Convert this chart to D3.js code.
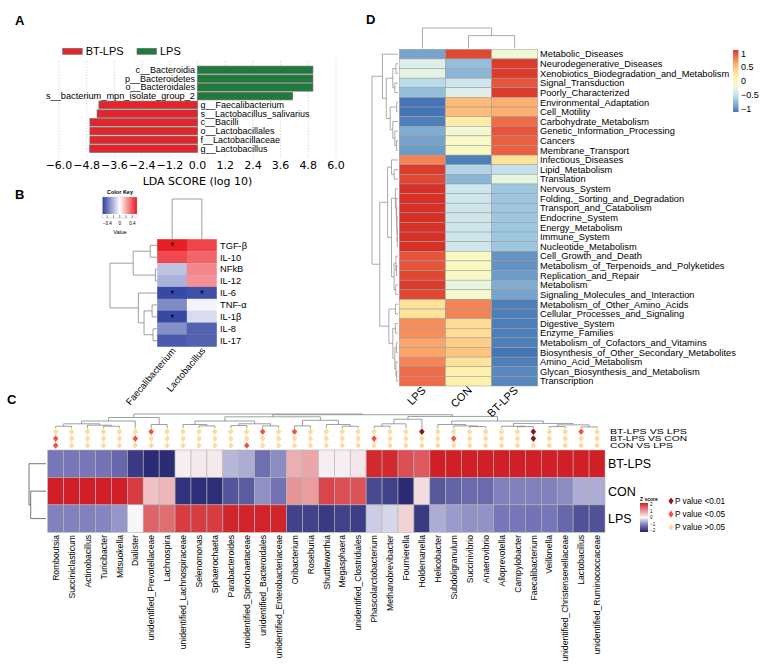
<!DOCTYPE html>
<html><head><meta charset="utf-8">
<script src="https://cdn.jsdelivr.net/npm/d3@7"></script>
<style>body{margin:0;background:#fff}</style>
</head><body><svg id="c" width="767" height="668"></svg>
<script>
// ---------------- DATA ----------------
// Panel A (LEfSe)
const ldaTaxa = ["c__Bacteroidia","p__Bacteroidetes","o__Bacteroidales","s__bacterium_mpn_isolate_group_2","g__Faecalibacterium","s__Lactobacillus_salivarius","c__Bacilli","o__Lactobacillales","f__Lactobacillaceae","g__Lactobacillus"];
const ldaScores = [5.0,5.0,5.0,4.12,-4.27,-4.35,-4.66,-4.66,-4.66,-4.67];
const ldaGroups = ["LPS","LPS","LPS","LPS","BT-LPS","BT-LPS","BT-LPS","BT-LPS","BT-LPS","BT-LPS"];
const ldaLegend = ["BT-LPS","LPS"];
const ldaTicks = [-6,-4.8,-3.6,-2.4,-1.2,0,1.2,2.4,3.6,4.8,6];

// Panel B (correlation)
const cytokines = ["TGF-β","IL-10","NFkB","IL-12","IL-6","TNF-α","IL-1β","IL-8","IL-17"];
const bacteria = ["Faecalibacterium","Lactobacillus"];
const corrFaecali = [0.53,0.43,-0.17,-0.22,-0.52,-0.33,-0.52,-0.32,-0.47];
const corrLacto = [0.44,0.36,0.28,0.26,-0.5,-0.03,-0.1,-0.45,-0.45];
const sigFaecali = [1,0,0,0,1,0,1,0,0];
const sigLacto = [0,0,0,0,1,0,0,0,0];
const keyTicks = [-0.4,0,0.4];
const cytoTree = [10,[5.1,[1.5,0,1],[0.4,2,3]],[4.0,4,[2.8,[1.1,5,6],[0.9,7,8]]]];
const bacTree = [1,0,1];

// Panel C (genus heatmap)
const genera = ["Romboutsia","Succiniclasticum","Actinobacillus","Turicibacter","Mitsuokella","Dialister","unidentified_Prevotellaceae","Lachnospira","unidentified_Lachnospiraceae","Selenomonas","Sphaerochaeta","Parabacteroides","unidentified_Spirochaetaceae","unidentified_Bacteroidales","unidentified_Enterobacteriaceae","Oribacterium","Roseburia","Shuttleworthia","Megasphaera","unidentified_Clostridiales","Phascolarctobacterium","Methanobrevibacter","Fournierella","Holdemanella","Helicobacter","Subdoligranulum","Succinivibrio","Anaerovibrio","Alloprevotella","Campylobacter","Faecalibacterium","Veillonella","unidentified_Christensenellaceae","Lactobacillus","unidentified_Ruminococcaceae"];
const groupsC = ["BT-LPS","CON","LPS"];
const zBT  = [-0.6,-0.6,-0.6,-0.62,-0.7,-1.0,-1.1,-1.1,0.05,0.08,0.08,-0.3,-0.35,-0.65,-0.5,0.4,0.45,0.05,0.05,0.1,1.1,1.1,0.9,0.85,1.15,1.15,1.15,1.15,1.15,1.15,1.15,1.15,1.15,1.15,1.15];
const zCON = [1.15,1.15,1.15,1.15,1.15,1.0,0.3,0.35,-1.05,-1.08,-1.08,-0.82,-0.78,-0.48,-0.62,0.55,0.5,0.95,0.9,0.88,-0.9,-0.95,-1.1,0.15,-0.8,-0.72,-0.68,-0.68,-0.55,-0.55,-0.55,-0.55,-0.5,-0.35,-0.35];
const zLPS = [-0.55,-0.55,-0.55,-0.53,-0.45,0.0,0.8,0.75,1.0,1.0,1.0,1.12,1.13,1.13,1.12,-0.95,-0.95,-1.0,-0.95,-0.98,-0.2,-0.15,0.2,-1.0,-0.35,-0.43,-0.47,-0.47,-0.6,-0.6,-0.62,-0.6,-0.7,-0.85,-0.85];
const comparisons = ["BT-LPS VS  LPS","BT-LPS VS  CON","CON VS  LPS"];
// 0: P>0.05, 1: P<0.05, 2: P<0.01
const pBTvsLPS = [0,0,0,0,0,0,1,0,0,0,0,0,0,1,0,1,0,0,0,0,0,0,0,2,0,0,0,0,0,0,2,0,0,1,0];
const pBTvsCON = [1,0,0,0,0,1,0,0,0,0,0,0,0,0,0,0,0,0,0,0,1,0,0,0,0,1,0,0,0,0,2,0,0,0,0];
const pCONvsLPS= [1,0,0,0,0,0,0,0,0,0,0,0,1,0,0,0,0,0,0,0,0,0,0,0,0,0,0,0,0,0,0,0,0,0,0];
const pLegend = ["P value <0.01","P value <0.05","P value >0.05"];
const zTicks = [2,1,0,-1,-2];
const groupTreeC = [1,0,[0.9,1,2]];
const genusTree = [4,
  [3,[2,[1.2,[0.5,0,1],[0.8,2,[0.5,3,4]]],5],[1,6,7]],
  [3.8,
    [3.2,[2,[1,8,[0.6,9,10]],[1.2,[0.7,11,12],[0.6,13,14]]],[2.2,[0.6,15,16],[1,17,[0.5,18,19]]]],
    [3.3,[2.5,[1.2,[0.5,20,21],22],23],[2,[1,24,[0.6,25,[0.4,26,27]]],[1.3,[0.5,28,[0.4,29,30]],[0.9,[0.4,31,32],[0.3,33,34]]]]]]];

// Panel D (KEGG heatmap)
const pathways = ["Metabolic_Diseases","Neurodegenerative_Diseases","Xenobiotics_Biodegradation_and_Metabolism","Signal_Transduction","Poorly_Characterized","Environmental_Adaptation","Cell_Motility","Carbohydrate_Metabolism","Genetic_Information_Processing","Cancers","Membrane_Transport","Infectious_Diseases","Lipid_Metabolism","Translation","Nervous_System","Folding,_Sorting_and_Degradation","Transport_and_Catabolism","Endocrine_System","Energy_Metabolism","Immune_System","Nucleotide_Metabolism","Cell_Growth_and_Death","Metabolism_of_Terpenoids_and_Polyketides","Replication_and_Repair","Metabolism","Signaling_Molecules_and_Interaction","Metabolism_of_Other_Amino_Acids","Cellular_Processes_and_Signaling","Digestive_System","Enzyme_Families","Metabolism_of_Cofactors_and_Vitamins","Biosynthesis_of_Other_Secondary_Metabolites","Amino_Acid_Metabolism","Glycan_Biosynthesis_and_Metabolism","Transcription"];
const groupsD = ["LPS","CON","BT-LPS"];
const dLPS = [-0.9,-0.35,-0.3,-0.55,-0.75,-1.15,-1.15,-1.1,-0.85,-0.9,-0.95,0.8,1.1,1.05,1.15,1.15,1.15,1.15,1.15,1.15,1.15,1.0,1.0,1.05,1.1,1.05,0.3,0.3,0.75,0.75,0.65,0.65,0.8,0.9,0.9];
const dCON = [1.05,-0.75,-0.8,-0.45,-0.35,0.55,0.55,0.2,-0.15,-0.05,0.0,-1.1,-0.6,-0.8,-0.45,-0.45,-0.45,-0.45,-0.45,-0.45,-0.45,0.0,0.0,-0.05,-0.25,-0.1,0.8,0.8,0.35,0.35,0.45,0.5,0.3,0.15,0.15];
const dBT  = [-0.15,1.1,1.1,1.0,1.1,0.6,0.6,0.9,1.0,0.95,0.95,0.3,-0.5,-0.25,-0.7,-0.7,-0.7,-0.7,-0.7,-0.7,-0.7,-1.0,-1.0,-0.95,-0.85,-0.9,-1.1,-1.1,-1.1,-1.1,-1.1,-1.15,-1.1,-1.05,-1.05];
const dTicks = [1,0.5,0,-0.5,-1];
const groupTreeD = [1,0,[0.63,1,2]];
const pathwayTree = [10,
  [6,0,[4.5,[2,[0.8,1,2],[1.2,3,4]],[3,[0.5,5,6],[2,7,[1.2,8,[0.6,9,10]]]]]],
  [7,[4,[2.5,11,[1.5,12,13]],[2.5,[1,14,[0.7,15,[0.5,16,[0.4,17,[0.3,18,[0.3,19,20]]]]]],[1.5,[0.8,21,[0.6,22,23]],[0.9,24,25]]]],
     [3.5,[1,26,27],[2,[1,28,29],[1.2,[0.6,30,31],[0.8,32,[0.5,33,34]]]]]]];

// ---------------- DRAW ----------------
const svg = d3.select("#c");
const AR = '"Liberation Sans", Arial, sans-serif';
const DJ = '"DejaVu Sans", sans-serif';
svg.append("rect").attr("width",767).attr("height",668).attr("fill","#fff");
const defs = svg.append("defs");

function dendro(g, tree, leafPos, hpos, orient, color, sw){
  function walk(node){
    if (typeof node === "number") return {p: leafPos(node), h: 0};
    const [h,a,b] = node; const A = walk(a), B = walk(b);
    const d = orient === "left"
      ? `M${hpos(A.h)},${A.p}H${hpos(h)}V${B.p}H${hpos(B.h)}`
      : `M${A.p},${hpos(A.h)}V${hpos(h)}H${B.p}V${hpos(B.h)}`;
    g.append("path").attr("d", d).attr("fill","none").attr("stroke",color).attr("stroke-width",sw);
    return {p:(A.p+B.p)/2, h};
  }
  walk(tree);
}
function panelLabel(t,x,y){
  svg.append("text").attr("x",x).attr("y",y).text(t).attr("font-family",AR).attr("font-weight","bold").attr("font-size",13);
}
panelLabel("A",15,25); panelLabel("B",15,199); panelLabel("C",7,404); panelLabel("D",366,24);

// ===== Panel A =====
{
  const g = svg.append("g");
  const colA = {"BT-LPS":"#e5232a","LPS":"#1e7b3c"};
  const x = d3.scaleLinear().domain([-6,6]).range([59,336]);
  const y = d3.scaleBand().domain(ldaTaxa).range([65.5,153]).paddingInner(0.14).paddingOuter(0.07);
  g.selectAll(".grid").data(ldaTicks).join("line")
    .attr("x1",d=>x(d)).attr("x2",d=>x(d)).attr("y1",61).attr("y2",157)
    .attr("stroke","#b8b8b8").attr("stroke-width",0.7).attr("stroke-dasharray","1,1.8");
  g.selectAll(".bar").data(ldaScores).join("rect")
    .attr("x",d=>Math.min(x(0),x(d))).attr("width",d=>Math.abs(x(d)-x(0)))
    .attr("y",(d,i)=>y(ldaTaxa[i])).attr("height",y.bandwidth())
    .attr("fill",(d,i)=>colA[ldaGroups[i]]).attr("stroke","#6a6a6a").attr("stroke-width",0.7);
  g.selectAll(".lab").data(ldaTaxa).join("text")
    .attr("x",(d,i)=> ldaScores[i]>0 ? x(0)-2.5 : x(0)+3)
    .attr("y",d=>y(d)+y.bandwidth()/2+3.1)
    .attr("text-anchor",(d,i)=> ldaScores[i]>0 ? "end":"start")
    .attr("font-family",AR).attr("font-size",9).attr("textLength",(d,i)=>i===3?149:null)
    .attr("lengthAdjust","spacingAndGlyphs").text(d=>d);
  const fmt = d3.format(".1f");
  g.selectAll(".tick").data(ldaTicks).join("text")
    .attr("x",d=>x(d)).attr("y",169).attr("text-anchor","middle")
    .attr("font-family",DJ).attr("font-size",11).text(d=>fmt(d));
  g.append("text").attr("x",x(0)).attr("y",184.5).attr("text-anchor","middle")
    .attr("font-family",DJ).attr("font-size",11).text("LDA SCORE (log 10)");
  const lx = [62.7,137];
  ldaLegend.forEach((k,i)=>{
    g.append("rect").attr("x",lx[i]).attr("y",48.3).attr("width",19.5).attr("height",6)
      .attr("fill",colA[k]).attr("stroke","#6a6a6a").attr("stroke-width",0.6);
    g.append("text").attr("x",lx[i]+23).attr("y",55).attr("font-family",AR).attr("font-size",11).text(k);
  });
}

// ===== Panel B =====
{
  const g = svg.append("g");
  const col = d3.scaleLinear().domain([-0.55,0,0.55]).range(["#2c3e9f","#ffffff","#e8161d"]).clamp(true);
  const x = d3.scaleBand().domain(bacteria).range([157.3,216.7]);
  const y = d3.scaleBand().domain(cytokines).range([239.3,346.7]);
  const vals = [corrFaecali, corrLacto], sig = [sigFaecali, sigLacto];
  bacteria.forEach((b,j)=>{
    g.selectAll(null).data(vals[j]).join("rect")
      .attr("x",x(b)).attr("width",x.bandwidth()).attr("y",(d,i)=>y(cytokines[i])).attr("height",y.bandwidth())
      .attr("fill",d=>col(d)).attr("stroke",d=>col(d)).attr("stroke-width",0.3);
    sig[j].forEach((s,i)=>{ if(s) g.append("text").attr("x",x(b)+x.bandwidth()/2).attr("y",y(cytokines[i])+y.bandwidth()/2+5)
      .attr("text-anchor","middle").attr("font-family",AR).attr("font-size",10).text("*"); });
  });
  g.selectAll(".rl").data(cytokines).join("text")
    .attr("x",220).attr("y",d=>y(d)+y.bandwidth()/2+3.3).attr("font-family",AR).attr("font-size",9.3).text(d=>d);
  g.selectAll(".cl").data(bacteria).join("text")
    .attr("transform",d=>`translate(${x(d)+x.bandwidth()/2+4},351) rotate(-50)`)
    .attr("text-anchor","end").attr("font-family",AR).attr("font-size",9.4).text(d=>d);
  dendro(g, cytoTree, i=>y(cytokines[i])+y.bandwidth()/2, d3.scaleLinear([0,10],[157.3,110]), "left", "#888", 0.8);
  dendro(g, bacTree, i=>x(bacteria[i])+x.bandwidth()/2, d3.scaleLinear([0,1],[239.3,199]), "top", "#888", 0.8);
  // colour key
  const grad = defs.append("linearGradient").attr("id","gB");
  d3.range(0,1.0001,0.1).forEach(t=>grad.append("stop").attr("offset",t).attr("stop-color",col(-0.55+1.1*t)));
  const kx = d3.scaleLinear().domain([-0.55,0.55]).range([102.5,137]);
  g.append("rect").attr("x",102.5).attr("y",197).attr("width",34.5).attr("height",17).attr("fill","url(#gB)");
  g.append("rect").attr("x",102.5).attr("y",197).attr("width",34.5).attr("height",21).attr("fill","none").attr("stroke","#bbb").attr("stroke-width",0.4);
  g.selectAll(".kt").data([-0.4,-0.2,0,0.2,0.4]).join("line").attr("x1",d=>kx(d)).attr("x2",d=>kx(d)).attr("y1",215).attr("y2",218).attr("stroke","#333").attr("stroke-width",0.5);
  g.selectAll(".ktl").data(keyTicks).join("text").attr("x",d=>kx(d)).attr("y",224.5).attr("text-anchor","middle").attr("font-family",AR).attr("font-size",4.5).text(d=>d===0?"0":d3.format(".1f")(d).replace("-","−"));
  g.append("text").attr("x",120).attr("y",193.5).attr("text-anchor","middle").attr("font-family",AR).attr("font-weight","bold").attr("font-size",5.5).text("Color Key");
  g.append("text").attr("x",120).attr("y",234).attr("text-anchor","middle").attr("font-family",AR).attr("font-size",5.5).text("Value");
}

// ===== Panel C =====
{
  const g = svg.append("g");
  const col = d3.scaleLinear().domain([-1.15,-0.6,0,0.6,1.15]).range(["#23246f","#7676b8","#f7f7fa","#e68b8d","#d01f26"]).clamp(true);
  const x = d3.scaleBand().domain(genera).range([47.7,605]);
  const y = d3.scaleBand().domain(groupsC).range([450,532.3]);
  const Z = [zBT,zCON,zLPS];
  groupsC.forEach((gr,r)=>{
    g.selectAll(null).data(Z[r]).join("rect")
      .attr("x",(d,i)=>x(genera[i])).attr("width",x.bandwidth()).attr("y",y(gr)).attr("height",y.bandwidth())
      .attr("fill",d=>col(d)).attr("stroke","#b4b4b4").attr("stroke-width",0.6);
  });
  g.selectAll(".rl").data(groupsC).join("text").attr("x",608).attr("y",d=>y(d)+y.bandwidth()/2+4.5)
    .attr("font-family",AR).attr("font-size",12.5).text(d=>d);
  g.selectAll(".cl").data(genera).join("text")
    .attr("transform",d=>`translate(${x(d)+x.bandwidth()/2+3.2},535) rotate(-90)`)
    .attr("text-anchor","end").attr("font-family",AR).attr("font-size",8.6).text(d=>d);
  // significance diamonds
  const pcol = ["#fcdca2","#f2553f","#8c1717"];
  const P = [pBTvsLPS,pBTvsCON,pCONvsLPS];
  const yd = d3.scalePoint().domain(comparisons).range([431.7,445.5]);
  const diamond = d3.symbol(d3.symbolDiamond, 16);
  comparisons.forEach((c,r)=>{
    g.selectAll(null).data(P[r]).join("path").attr("d",diamond)
      .attr("transform",(d,i)=>`translate(${x(genera[i])+x.bandwidth()/2},${yd(c)}) scale(1.3,0.9)`)
      .attr("fill",d=>pcol[d]);
    g.append("text").attr("x",610).attr("y",yd(c)+2.6).attr("font-family",AR).attr("font-size",6.8)
      .attr("textLength",c.startsWith("CON")?63:77).attr("lengthAdjust","spacingAndGlyphs").text(c.replace("  "," "));
  });
  dendro(g, genusTree, i=>x(genera[i])+x.bandwidth()/2, d3.scaleLinear([0,4],[428,414]), "top", "#777", 0.7);
  dendro(g, groupTreeC, i=>y(groupsC[i])+y.bandwidth()/2, d3.scaleLinear([0,1],[46,29]), "left", "#666", 0.9);
  // z legend
  const grad = defs.append("linearGradient").attr("id","gC").attr("x1",0).attr("x2",0).attr("y1",0).attr("y2",1);
  d3.range(0,1.0001,0.1).forEach(t=>grad.append("stop").attr("offset",t).attr("stop-color",col(1.15-2.3*t)));
  g.append("rect").attr("x",640).attr("y",503).attr("width",8).attr("height",29).attr("fill","url(#gC)");
  const zy = d3.scaleLinear().domain([2,-2]).range([504.5,530.5]);
  g.selectAll(".zt").data(zTicks).join("text").attr("x",650).attr("y",d=>zy(d)+1.5)
    .attr("font-family",AR).attr("font-size",4.5).text(d=>String(d).replace("-","−"));
  g.append("text").attr("x",640).attr("y",501).attr("font-family",AR).attr("font-weight","bold").attr("font-size",5).text("Z score");
  const ly = d3.scalePoint().domain(pLegend).range([501,527.3]);
  pLegend.forEach((p,i)=>{
    g.append("path").attr("d",diamond).attr("transform",`translate(671,${ly(p)}) scale(1.2,0.95)`).attr("fill",pcol[2-i]);
    g.append("text").attr("x",675).attr("y",ly(p)+3).attr("font-family",AR).attr("font-size",8.2).text(p);
  });
}

// ===== Panel D =====
{
  const g = svg.append("g");
  const interp = d3.interpolateRgbBasis(["#4575B4","#91BFDB","#E0F3F8","#FFFFBF","#FEE090","#FC8D59","#D73027"]);
  const col = v => interp(Math.max(0,Math.min(1,(v+1.15)/2.3)));
  const x = d3.scaleBand().domain(groupsD).range([399.3,537.7]);
  const y = d3.scaleBand().domain(pathways).range([49.3,386]);
  const V = [dLPS,dCON,dBT];
  groupsD.forEach((gr,c)=>{
    g.selectAll(null).data(V[c]).join("rect")
      .attr("x",x(gr)).attr("width",x.bandwidth()).attr("y",(d,i)=>y(pathways[i])).attr("height",y.bandwidth())
      .attr("fill",d=>col(d)).attr("stroke","#999").attr("stroke-width",0.5);
  });
  g.selectAll(".rl").data(pathways).join("text").attr("x",540).attr("y",d=>y(d)+y.bandwidth()/2+3.3)
    .attr("font-family",AR).attr("font-size",9.3).text(d=>d);
  g.selectAll(".cl").data(groupsD).join("text")
    .attr("transform",d=>`translate(${x(d)+x.bandwidth()/2+4},391) rotate(-45)`)
    .attr("text-anchor","end").attr("font-family",AR).attr("font-size",11).text(d=>d);
  dendro(g, pathwayTree, i=>y(pathways[i])+y.bandwidth()/2, d3.scaleLinear([0,10],[398,372]), "left", "#888", 0.7);
  dendro(g, groupTreeD, i=>x(groupsD[i])+x.bandwidth()/2, d3.scaleLinear([0,1],[48.5,28]), "top", "#888", 0.7);
  const grad = defs.append("linearGradient").attr("id","gD").attr("x1",0).attr("x2",0).attr("y1",0).attr("y2",1);
  d3.range(0,1.0001,0.05).forEach(t=>grad.append("stop").attr("offset",t).attr("stop-color",col(1.12-2.25*t)));
  g.append("rect").attr("x",733).attr("y",50).attr("width",5.5).attr("height",62).attr("fill","url(#gD)");
  const ty = d3.scaleLinear().domain([1,-1]).range([53.3,108.3]);
  g.selectAll(".dt").data(dTicks).join("text").attr("x",741).attr("y",d=>ty(d)+3.2)
    .attr("font-family",AR).attr("font-size",9).text(d=>String(d).replace("-","−"));
}
</script></body></html>
